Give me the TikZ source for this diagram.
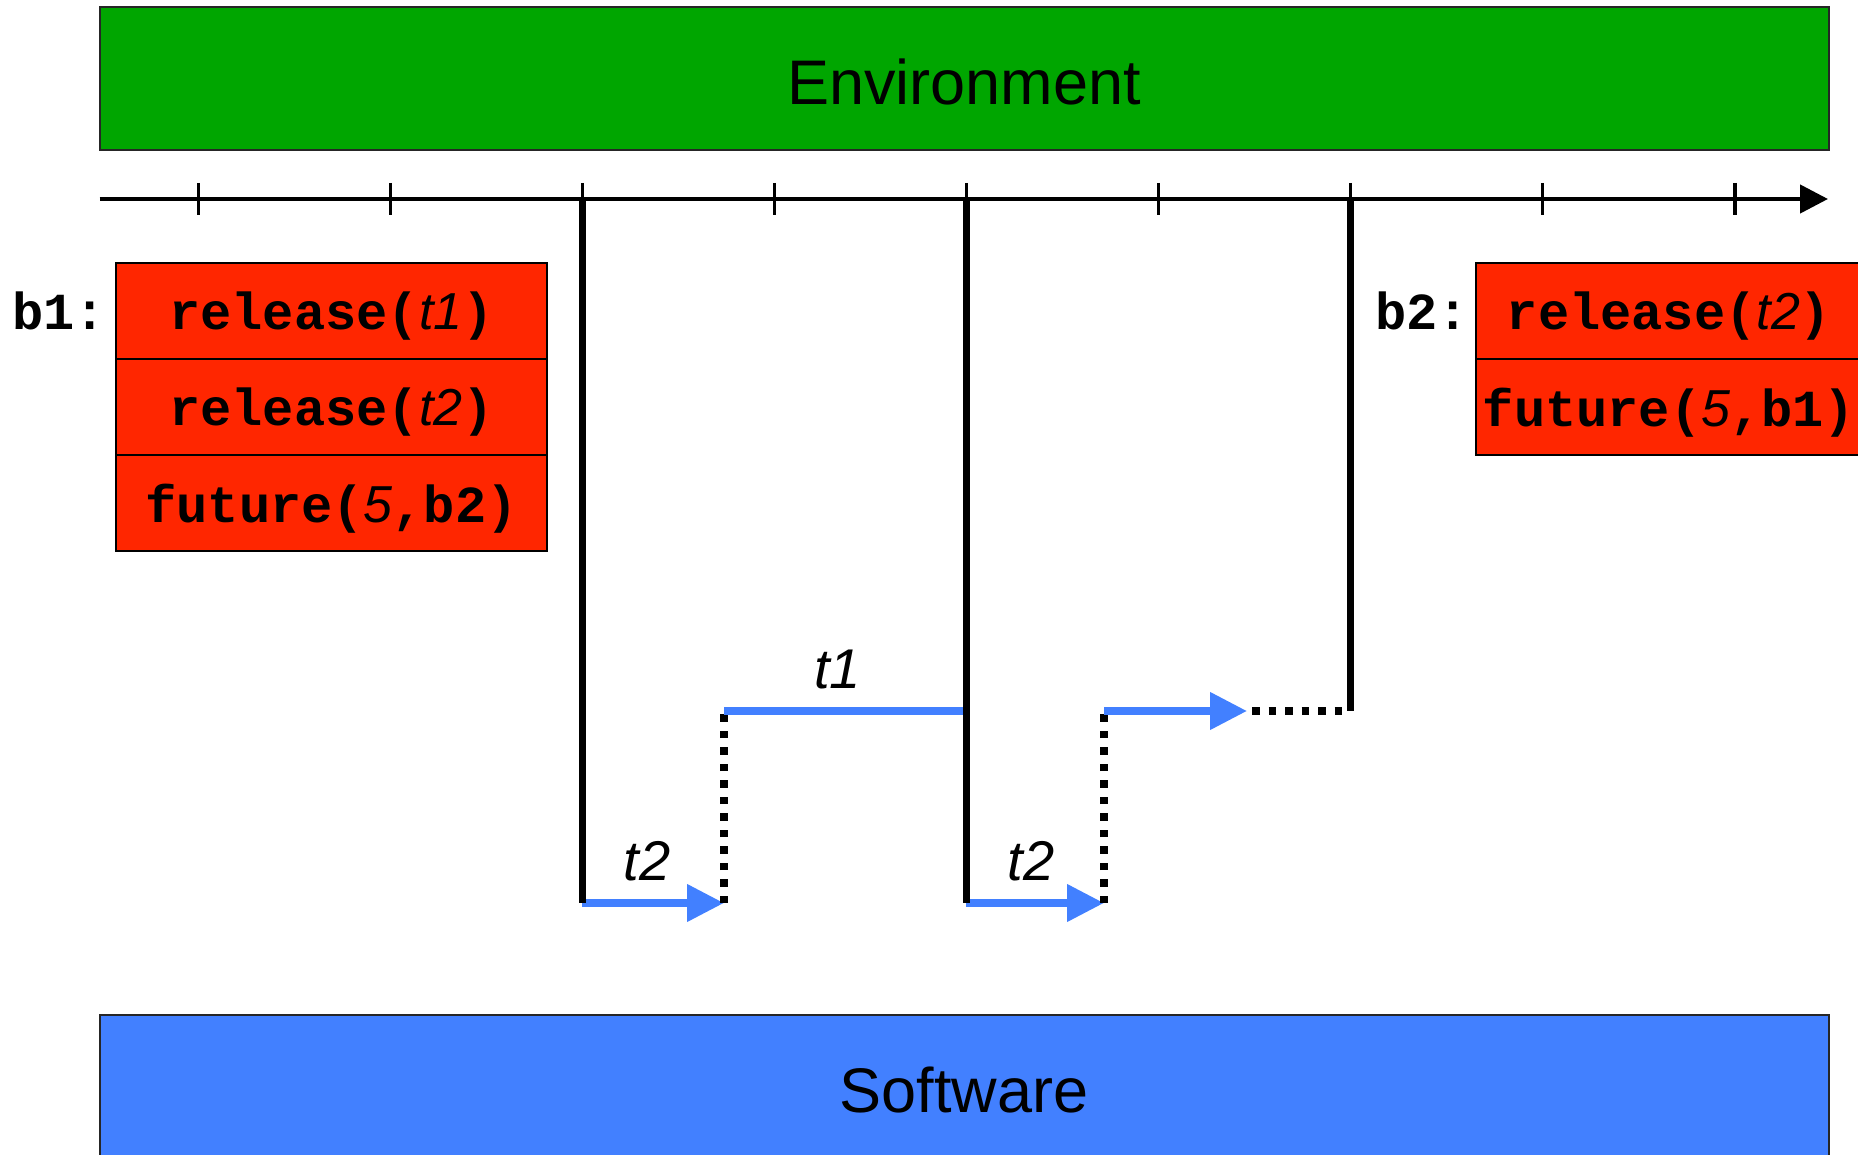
\documentclass[tikz,border=0pt]{standalone}
\usepackage{fontspec}
\setmainfont{Liberation Sans}
\setmonofont{Liberation Mono}
\usetikzlibrary{arrows.meta,positioning}

\definecolor{envgreen}{RGB}{0,166,0}
\definecolor{swblue}{RGB}{66,128,255}
\definecolor{bufred}{RGB}{255,38,0}

\newcommand*{\xmin}{99.5}
\newcommand*{\xmax}{1828}
\newcommand*{\axisy}{199}
\newcommand*{\highy}{711}
\newcommand*{\lowy}{903}
\newcommand*{\argit}[1]{{\normalfont\itshape #1}}

\begin{document}
\begin{tikzpicture}
[
	x=0.5pt,y=-0.5pt,
	bigbox/.style={draw=black!85,line width=1pt,minimum width=864.5pt,minimum height=71.5pt,inner sep=0pt,text height=26pt,font=\fontsize{31.5pt}{36pt}\selectfont},
	cmd/.style={draw=black,fill=bufred,line width=1pt,minimum height=48pt,inner sep=0pt,outer sep=0pt,text depth=0pt,font=\fontsize{26pt}{30pt}\selectfont\ttfamily\bfseries},
	buflabel/.style={inner sep=0pt,text depth=0pt,font=\fontsize{26pt}{30pt}\selectfont\ttfamily\bfseries},
	event/.style={line width=3.5pt},
	run/.style={swblue,line width=3.75pt},
	runto/.style={run,-{Triangle[length=18.5pt,width=18pt]}},
	wait/.style={line width=3.75pt,dash pattern=on 3.75pt off 4.5pt},
	task/.style={inner sep=0pt,text=black,font=\fontsize{28pt}{32pt}\selectfont\itshape}
]

	\useasboundingbox (0,0) rectangle (1858,1155);

	% environment and software
	\node[bigbox,fill=envgreen] (env) at (964,78.5) {Environment};
	\node[bigbox,fill=swblue] (sw) at (964,1086.5) {Software};

	% time axis
	\draw[line width=2.25pt,-{Triangle[length=14pt,width=14pt]}] (\xmin,\axisy) -- (\xmax,\axisy);
	\foreach \i in {1,...,9}
		\draw[line width=1.6pt] ({6+192.1*\i},\axisy-16) -- ({6+192.1*\i},\axisy+16);

	% buffers
	\node[cmd,minimum width=215.5pt] (b1a) at (331.5,311) {release(\argit{t1})};
	\node[cmd,minimum width=215.5pt,below=0pt of b1a] (b1b) {release(\argit{t2})};
	\node[cmd,minimum width=215.5pt,below=0pt of b1b] (b1c) {future(\argit{5},b2)};
	\node[buflabel,left=4.7pt of b1a] (b1) {b1:};

	\node[cmd,minimum width=193pt] (b2a) at (1669,311) {release(\argit{t2})};
	\node[cmd,minimum width=193pt,below=0pt of b2a] (b2b) {future(\argit{5},b1)};
	\node[buflabel,left=3.5pt of b2a] (b2) {b2:};

	% points of the run
	\coordinate (r1) at (582,\axisy);
	\coordinate (r2) at (966,\axisy);
	\coordinate (r3) at (1350,\axisy);
	\coordinate (s1) at (582,\lowy);
	\coordinate (e1) at (724,\lowy);
	\coordinate (p1) at (724,\highy);
	\coordinate (q1) at (966,\highy);
	\coordinate (s2) at (966,\lowy);
	\coordinate (e2) at (1104,\lowy);
	\coordinate (p2) at (1104,\highy);
	\coordinate (f2) at (1247,\highy);
	\coordinate (q2) at (1350,\highy);

	% tasks
	\draw[runto] (s1) -- node[task,above=9pt,pos=0.46] (l1) {t2} (e1);
	\draw[wait] (e1) -- (p1);
	\draw[run] (p1) -- node[task,above=9pt,pos=0.47] (l2) {t1} (q1);
	\draw[runto] (s2) -- node[task,above=9pt,pos=0.47] (l3) {t2} (e2);
	\draw[wait] (e2) -- (p2);
	\draw[runto] (p2) -- (f2);
	\draw[wait,shorten <=2.5pt] (f2) -- (q2);

	% buffer events
	\draw[event] (r1) -- (s1);
	\draw[event] (r2) -- (s2);
	\draw[event] (r3) -- (q2);

\end{tikzpicture}
\end{document}
